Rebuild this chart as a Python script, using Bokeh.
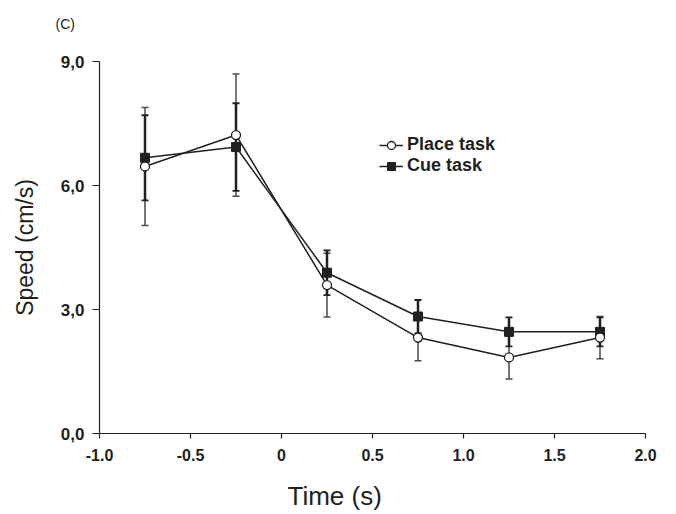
from bokeh.plotting import figure
from bokeh.models import (ColumnDataSource, Range1d, FixedTicker, CustomJSTickFormatter,
                          Whisker, TeeHead, Legend, LegendItem, Title, LinearAxis)
from bokeh.embed import file_html
from bokeh.resources import INLINE

# ---- data ----
time = [-0.75, -0.25, 0.25, 0.75, 1.25, 1.75]
place_speed = [6.46, 7.22, 3.59, 2.32, 1.84, 2.32]
place_err = [1.43, 1.48, 0.77, 0.56, 0.52, 0.51]
cue_speed = [6.67, 6.93, 3.89, 2.83, 2.46, 2.46]
cue_err = [1.03, 1.06, 0.54, 0.40, 0.35, 0.35]
x_ticks = [-1.0, -0.5, 0.0, 0.5, 1.0, 1.5, 2.0]
y_ticks = [0.0, 3.0, 6.0, 9.0]

FONT = "Liberation Sans"
INK = "#231f20"

place_src = ColumnDataSource(dict(
    x=time, y=place_speed,
    upper=[v + e for v, e in zip(place_speed, place_err)],
    lower=[v - e for v, e in zip(place_speed, place_err)]))
cue_src = ColumnDataSource(dict(
    x=time, y=cue_speed,
    upper=[v + e for v, e in zip(cue_speed, cue_err)],
    lower=[v - e for v, e in zip(cue_speed, cue_err)]))

p = figure(width=676, height=514, output_backend="svg", toolbar_location=None,
           x_range=Range1d(-1.0, 2.0), y_range=Range1d(0.0, 9.0),
           min_border_left=99, min_border_right=31, min_border_top=61, min_border_bottom=81)
p.outline_line_color = None
p.xgrid.visible = False
p.ygrid.visible = False
p.background_fill_color = "white"
p.border_fill_color = "white"

# axes
for ax in (p.xaxis[0], p.yaxis[0]):
    ax.axis_line_color = INK
    ax.axis_line_width = 1.2
    ax.major_tick_line_color = INK
    ax.major_tick_line_width = 1.2
    ax.major_tick_in = 0
    ax.minor_tick_line_color = None
    ax.major_label_text_font = FONT
    ax.major_label_text_font_style = "bold"
    ax.major_label_text_color = INK

p.xaxis[0].ticker = FixedTicker(ticks=x_ticks)
p.xaxis[0].formatter = CustomJSTickFormatter(code="return tick == 0 ? '0' : tick.toFixed(1);")
p.xaxis[0].major_tick_out = 5
p.xaxis[0].major_label_text_font_size = "16px"
p.xaxis[0].major_label_standoff = 10

p.yaxis[0].ticker = FixedTicker(ticks=y_ticks)
p.yaxis[0].formatter = CustomJSTickFormatter(code="return tick.toFixed(1).replace('.', ',');")
p.yaxis[0].major_tick_out = 7
p.yaxis[0].major_label_text_font_size = "17px"
p.yaxis[0].major_label_standoff = 8
p.yaxis[0].axis_label = "Speed (cm/s)"
p.yaxis[0].axis_label_text_font = FONT
p.yaxis[0].axis_label_text_font_style = "normal"
p.yaxis[0].axis_label_text_font_size = "23px"
p.yaxis[0].axis_label_text_color = INK
p.yaxis[0].axis_label_standoff = 20

# error bars
p.add_layout(Whisker(source=place_src, base="x", upper="upper", lower="lower",
                     line_color="#4a4a4a", line_width=1.5,
                     upper_head=TeeHead(size=7, line_color="#4a4a4a", line_width=1.5),
                     lower_head=TeeHead(size=7, line_color="#4a4a4a", line_width=1.5)))
p.add_layout(Whisker(source=cue_src, base="x", upper="upper", lower="lower",
                     line_color=INK, line_width=2.5,
                     upper_head=TeeHead(size=7, line_color=INK, line_width=1.8),
                     lower_head=TeeHead(size=7, line_color=INK, line_width=1.8)))

# lines and markers
l_place = p.line("x", "y", source=place_src, line_color=INK, line_width=1.5)
l_cue = p.line("x", "y", source=cue_src, line_color=INK, line_width=1.5)
m_cue = p.scatter("x", "y", source=cue_src, marker="square", size=9,
                  fill_color=INK, line_color=INK, line_width=1)
m_place = p.scatter("x", "y", source=place_src, marker="circle", size=9,
                    fill_color="white", line_color=INK, line_width=1.3)

legend = Legend(items=[LegendItem(label="Place task", renderers=[l_place, m_place]),
                       LegendItem(label="Cue task", renderers=[l_cue, m_cue])],
                location=(280, 257), orientation="vertical",
                border_line_color=None, background_fill_alpha=0,
                padding=0, margin=0, spacing=0,
                glyph_width=24, glyph_height=20, label_height=20, label_standoff=4,
                label_text_font=FONT, label_text_font_style="bold",
                label_text_font_size="18px", label_text_color=INK)
p.add_layout(legend, "center")


def spacer(size):
    # blank axis (one invisible tick, empty label) that only reserves room in a side panel
    return LinearAxis(ticker=FixedTicker(ticks=[0.0]),
                      formatter=CustomJSTickFormatter(code="return '';"),
                      axis_line_color=None, major_tick_line_color=None,
                      minor_tick_line_color=None, major_tick_in=0,
                      major_tick_out=size, minor_tick_out=0,
                      major_label_standoff=0, major_label_text_font_size="1px",
                      major_label_text_color=None)


# x-axis title and panel letter as side titles
p.add_layout(spacer(15), "below")
p.add_layout(Title(text="Time (s)", align="left", offset=188, standoff=0,
                   text_font=FONT, text_font_size="26px", text_font_style="normal",
                   text_color=INK), "below")
p.add_layout(spacer(30), "above")
p.add_layout(Title(text="(C)", align="left", offset=-44, standoff=0,
                   text_font=FONT, text_font_size="14px", text_font_style="normal",
                   text_color=INK), "above")

open("out.html", "w").write(file_html(p, INLINE))
